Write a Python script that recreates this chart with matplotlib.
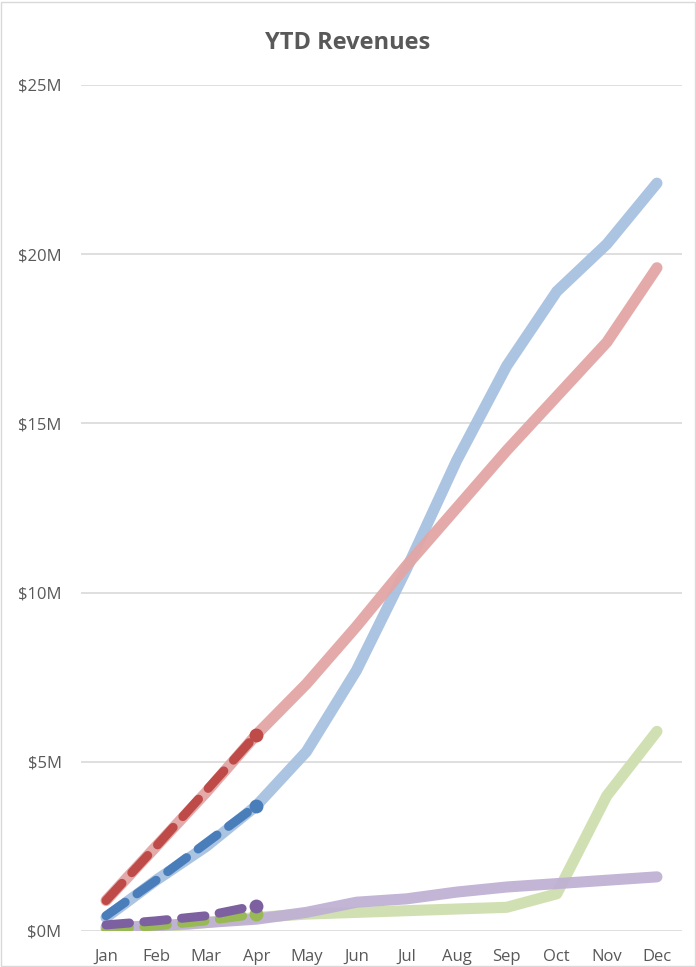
import matplotlib.pyplot as plt
import matplotlib as mpl
from matplotlib.ticker import FuncFormatter, MultipleLocator
from matplotlib.patches import Rectangle

# --- DATA (values in $M) ---
months = ["Jan", "Feb", "Mar", "Apr", "May", "Jun", "Jul", "Aug", "Sep", "Oct", "Nov", "Dec"]

blue_full = [0.4, 1.5, 2.5, 3.7, 5.3, 7.7, 10.7, 13.9, 16.7, 18.9, 20.3, 22.1]
red_full = [0.9, 2.5, 4.1, 5.8, 7.3, 9.0, 10.8, 12.5, 14.2, 15.8, 17.4, 19.6]
green_full = [0.0, 0.1, 0.25, 0.4, 0.5, 0.55, 0.6, 0.65, 0.7, 1.1, 4.0, 5.9]
purple_full = [0.1, 0.15, 0.25, 0.35, 0.55, 0.85, 0.95, 1.15, 1.3, 1.4, 1.5, 1.6]

ytd_months = months[:4]
blue_ytd = [0.45, 1.5, 2.6, 3.7]
red_ytd = [0.9, 2.5, 4.15, 5.8]
green_ytd = [0.05, 0.15, 0.3, 0.5]
purple_ytd = [0.18, 0.3, 0.45, 0.75]

# --- Style ---
mpl.rcParams['font.family'] = ['Open Sans', 'DejaVu Sans']
text_col = "#595959"

fig = plt.figure(figsize=(6.96, 9.67), dpi=100)
ax = fig.add_axes([81 / 696, 1 - 931 / 967, (682 - 81) / 696, (931 - 85) / 967])

x_full = list(range(len(months)))
x_ytd = list(range(len(ytd_months)))

faded = [("#a7c1e0", blue_full), ("#e2a6a5", red_full),
         ("#cfdfae", green_full), ("#c0b1d3", purple_full)]
for col, vals in faded:
    ax.plot(x_full, vals, color=col, lw=8, solid_capstyle='round',
            solid_joinstyle='round', zorder=2, alpha=0.95)

dark = [("#4a7ebb", blue_ytd), ("#be4b48", red_ytd),
        ("#98b954", green_ytd), ("#7d60a0", purple_ytd)]
for col, vals in dark:
    ax.plot(x_ytd, vals, color=col, lw=6.5, dashes=(2.6, 1.6),
            dash_capstyle='round', zorder=3)
    ax.plot(x_ytd[-1], vals[-1], 'o', color=col, ms=10, zorder=3,
            markeredgewidth=0)

ax.set_xlim(-0.5, len(months) - 0.5)
ax.set_ylim(0, 25)
ax.set_xticks(x_full)
ax.set_xticklabels(months)
ax.yaxis.set_major_locator(MultipleLocator(5))
ax.yaxis.set_major_formatter(FuncFormatter(lambda v, p: f"${v:.0f}M"))

ax.grid(axis='y', color="#d9d9d9", lw=1.2)
ax.set_axisbelow(True)
for s in ax.spines.values():
    s.set_visible(False)
ax.tick_params(axis='both', length=0, colors=text_col, labelsize=12)
ax.tick_params(axis='y', pad=14)
ax.tick_params(axis='x', pad=13)

fig.text(0.5, 1 - 43 / 967, "YTD Revenues", ha='center', va='center',
         fontsize=17, fontweight='bold', color=text_col)

# chart border
fig.patches.append(Rectangle((0.002, 0.001), 0.996, 0.997, transform=fig.transFigure,
                             fill=False, edgecolor="#d9d9d9", lw=1))

plt.savefig("out.png", dpi=100)
